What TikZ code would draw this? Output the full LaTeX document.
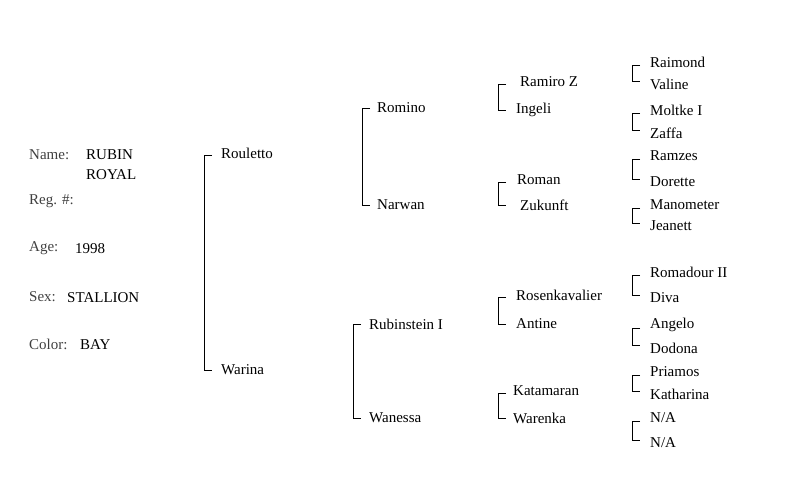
\documentclass[tikz,border=0pt]{standalone}
\usepackage{fontspec}
\setmainfont{Liberation Serif}
\begin{document}
\begin{tikzpicture}[x=1pt,y=-1pt,font=\fontsize{15}{17}\selectfont,
  horse/.style={anchor=west,inner sep=1pt},
  lbl/.style={anchor=west,inner sep=1pt,text=black!75}]
	\useasboundingbox (0,0) rectangle (808,491);
	% info block
	\node[lbl] (nm) at (28,155) {Name:};
	\node[horse] (rb) at (85,155) {RUBIN};
	\node[horse] (ry) at (85,175) {ROYAL};
	\node[lbl] (rg) at (28,201) {Reg. \#:};
	\node[lbl] (ag) at (28,248) {Age:};
	\node[horse] (agv) at (74,249) {1998};
	\node[lbl] (sx) at (28,297) {Sex:};
	\node[horse] (sxv) at (66,298) {STALLION};
	\node[lbl] (cl) at (28,344) {Color:};
	\node[horse] (clv) at (79,345) {BAY};
	% sire and dam
	\draw (212,155)--(204,155)--(204,370)--(212,370);
	\node[horse] (s) at (220,153) {Rouletto};
	\node[horse] (d) at (220,370) {Warina};
	% grandparents
	\draw (370,108)--(362,108)--(362,205)--(370,205);
	\node[horse] (ss) at (376,108) {Romino};
	\node[horse] (sd) at (376,205) {Narwan};
	\draw (361,324)--(353,324)--(353,418)--(361,418);
	\node[horse] (ds) at (368,324) {Rubinstein I};
	\node[horse] (dd) at (368,418) {Wanessa};
	% great-grandparents
	\foreach \ya/\yb/\na/\nb/\xa/\xb in {
	  84/110/Ramiro Z/Ingeli/519/515,
	  182/205/Roman/Zukunft/516/519,
	  297/324/Rosenkavalier/Antine/515/515,
	  393/418/Katamaran/Warenka/512/512}{
	  \draw (506,\ya)--(498,\ya)--(498,\yb)--(506,\yb);
	  \node[horse] at (\xa,\ya-2) {\na};
	  \node[horse] at (\xb,\yb) {\nb};
	}
	% fourth generation
	\foreach \ya/\yb/\na/\nb in {
	  62/84/Raimond/Valine,
	  110/133/Moltke I/Zaffa,
	  156/182/Ramzes/Dorette,
	  205/226/Manometer/Jeanett,
	  272/298/Romadour II/Diva,
	  325/348/Angelo/Dodona,
	  372/394/Priamos/Katharina,
	  418/443/{N/A}/{N/A}}{
	  \draw (640,\ya+3)--(632,\ya+3)--(632,\yb-3)--(640,\yb-3);
	  \node[horse] at (649,\ya) {\na};
	  \node[horse] at (649,\yb) {\nb};
	}
\end{tikzpicture}
\end{document}
